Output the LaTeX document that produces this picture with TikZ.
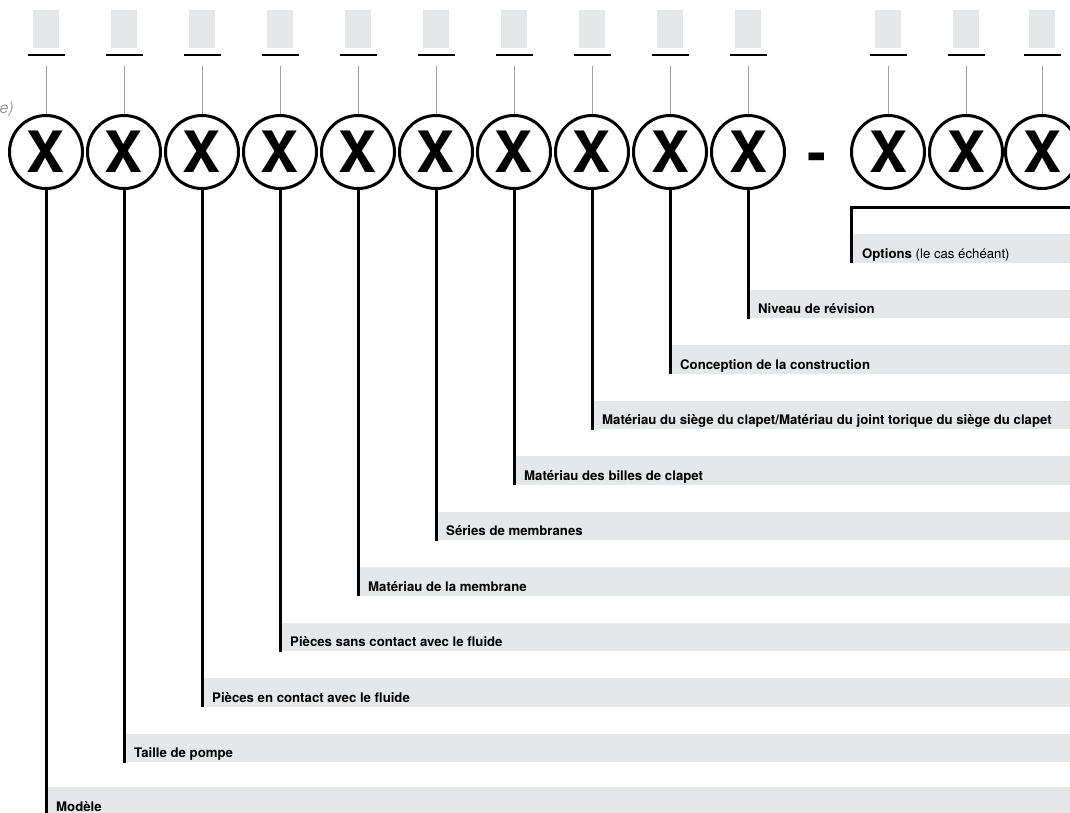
\documentclass[tikz,border=0pt]{standalone}
\usepackage{fontspec}
\setmainfont{TeX Gyre Heros}
\definecolor{barfill}{HTML}{E6E7E8}
\definecolor{tickgray}{HTML}{A0A0A0}
\definecolor{hintgray}{HTML}{9A9A9A}
\tikzset{
  digit/.style={circle, draw=black, line width=3pt, minimum size=73pt, inner sep=0pt,
    font=\fontsize{57}{57}\selectfont\bfseries},
  slot/.style={fill=barfill, minimum width=26pt, minimum height=38pt, inner sep=0pt},
  uline/.style={line width=2.3pt, black},
  tick/.style={line width=1pt, tickgray},
  stem/.style={line width=3pt, black},
  bar/.style={fill=barfill, inner sep=0pt, minimum height=28.5pt, anchor=south west},
  lbl/.style={font=\fontsize{13.2}{16}\selectfont, inner sep=0pt, anchor=base west},
}
\begin{document}
\begin{tikzpicture}[x=1pt, y=-1pt]
\useasboundingbox (0,0) rectangle (1070,812);
\begin{scope}
\clip (0,0) rectangle (1070,812);
% hint text at left edge
\node[font=\fontsize{16}{18}\selectfont\itshape, text=hintgray, inner sep=0pt, anchor=base east] (hint) at (14,113) {e)};
% dash
\node[font=\fontsize{57}{57}\selectfont\bfseries, inner sep=0pt, anchor=base] (dash) at (817,172.5) {-};
% digits, slots, ticks
\foreach \i/\x in {1/46,2/124,3/202,4/280,5/358,6/436,7/514,8/592,9/670,10/748,11/888,12/966,13/1042}{
  \node[digit] (c\i) at (\x,152) {X};
  \node[slot] (s\i) at (\x,29) {};
  \draw[uline] (\x-18.5,55) -- (\x+18.5,55);
  \coordinate (u\i) at (\x,66);
  \draw[tick] (u\i) -- (c\i.north);
}
% bars, labels, stems
\foreach \i/\x/\yb/\txt in {
  1/46/816/{\textbf{Modèle}},
  2/124/762.5/{\textbf{Taille de pompe}},
  3/202/707/{\textbf{Pièces en contact avec le fluide}},
  4/280/651.5/{\textbf{Pièces sans contact avec le fluide}},
  5/358/596/{\textbf{Matériau de la membrane}},
  6/436/540.5/{\textbf{Séries de membranes}},
  7/514/485/{\textbf{Matériau des billes de clapet}},
  8/592/429.5/{\textbf{Matériau du siège du clapet/Matériau du joint torique du siège du clapet}},
  9/670/374/{\textbf{Conception de la construction}},
  10/748/318.5/{\textbf{Niveau de révision}}}{
  \pgfmathsetmacro\w{1070-\x}
  \node[bar, minimum width=\w pt] (b\i) at (\x,\yb) {};
  \node[lbl] (t\i) at (\x+10,\yb-5) {\txt};
  \draw[stem] (c\i.south) -- (c\i.south |- b\i.south);
}
% options bracket
\node[bar, minimum width=219pt] (b11) at (851,263) {};
\node[lbl] (t11) at (862,258) {\textbf{Options} (le cas échéant)};
\coordinate (br) at (1072,207);
\draw[stem] (br) -| (b11.south west);
\end{scope}
\end{tikzpicture}
\end{document}
